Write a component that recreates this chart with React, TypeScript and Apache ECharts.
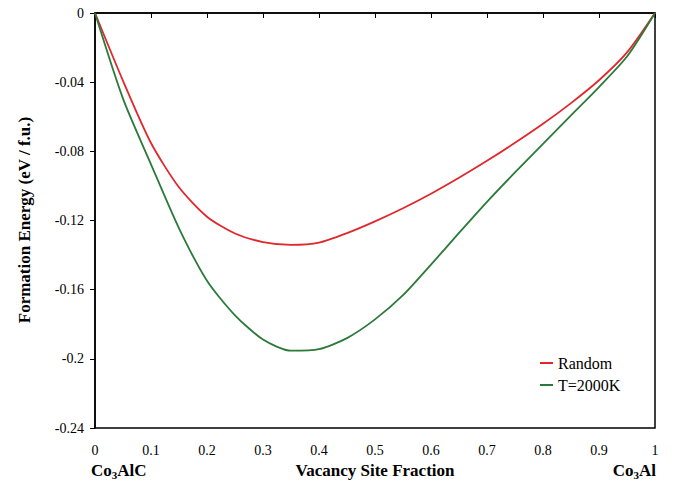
import React, { useEffect, useRef } from "react";
import * as echarts from "echarts";

const fractions = [0, 0.05, 0.1, 0.15, 0.2, 0.25, 0.3, 0.35, 0.4, 0.45, 0.5, 0.55, 0.6, 0.65, 0.7, 0.75, 0.8, 0.85, 0.9, 0.95, 1];
const randomE = [0, -0.0392, -0.0752, -0.1008, -0.1178, -0.1275, -0.1325, -0.1341, -0.1328, -0.1273, -0.1205, -0.1129, -0.1045, -0.0953, -0.0855, -0.0751, -0.0641, -0.0521, -0.0389, -0.0228, 0];
const t2000E = [0, -0.0495, -0.0875, -0.1245, -0.1548, -0.1748, -0.1888, -0.1953, -0.1944, -0.188, -0.1772, -0.1632, -0.1455, -0.1272, -0.1092, -0.0922, -0.0757, -0.0592, -0.0428, -0.0252, 0];
const seriesNames = ["Random", "T=2000K"];
const yTitle = "Formation Energy (eV / f.u.)";
const xTitle = "Vacancy Site Fraction";

const FONT = "Liberation Serif";
const BOLD17 = `bold 17px "${FONT}"`;

export default function App() {
  const ref = useRef<HTMLDivElement>(null);
  useEffect(() => {
    if (!ref.current) return;
    const chart = echarts.init(ref.current, null, { renderer: "svg" });
    const toPairs = (ys: number[]) => fractions.map((x, i) => [x, ys[i]]);
    chart.setOption({
      animation: false,
      grid: { left: 95, top: 13, right: 20, bottom: 59, show: true, borderColor: "#000", borderWidth: 1.5 },
      xAxis: {
        type: "value",
        min: 0,
        max: 1,
        interval: 0.1,
        axisLine: { lineStyle: { color: "#000", width: 1.5 } },
        axisTick: { length: 5, lineStyle: { color: "#000" } },
        splitLine: { show: false },
        axisLabel: {
          margin: 15,
          color: "#000",
          fontFamily: FONT,
          fontSize: 14,
          formatter: (v: number) => String(+v.toFixed(2)),
        },
      },
      yAxis: {
        type: "value",
        min: -0.24,
        max: 0,
        interval: 0.04,
        axisLine: { lineStyle: { color: "#000", width: 1.5 } },
        axisTick: { length: 5, lineStyle: { color: "#000" } },
        splitLine: { show: false },
        axisLabel: {
          margin: 11,
          color: "#000",
          fontFamily: FONT,
          fontSize: 14,
          formatter: (v: number) => String(+v.toFixed(2)),
        },
      },
      legend: {
        orient: "vertical",
        left: 535,
        top: 350,
        icon: "rect",
        itemWidth: 13,
        itemHeight: 2,
        itemGap: 6,
        textStyle: { fontFamily: FONT, fontSize: 16, color: "#000" },
        data: seriesNames,
      },
      series: [
        {
          name: seriesNames[0],
          type: "line",
          data: toPairs(randomE),
          smooth: 0.25,
          symbol: "none",
          lineStyle: { color: "#e0282c", width: 1.8 },
          itemStyle: { color: "#e0282c" },
        },
        {
          name: seriesNames[1],
          type: "line",
          data: toPairs(t2000E),
          smooth: 0.25,
          symbol: "none",
          lineStyle: { color: "#2b7a3a", width: 1.8 },
          itemStyle: { color: "#2b7a3a" },
        },
      ],
      graphic: [
        {
          type: "text",
          x: 24,
          y: 220,
          rotation: Math.PI / 2,
          style: { text: yTitle, font: BOLD17, fill: "#000", align: "center", verticalAlign: "middle" },
        },
        {
          type: "text",
          x: 375,
          y: 470,
          style: { text: xTitle, font: BOLD17, fill: "#000", align: "center", verticalAlign: "middle" },
        },
        {
          type: "text",
          x: 91,
          y: 470,
          style: {
            text: "{a|Co}{s|3}{a|AlC}",
            align: "left",
            verticalAlign: "middle",
            rich: {
              a: { fontFamily: FONT, fontWeight: "bold", fontSize: 17, color: "#000" },
              s: { fontFamily: FONT, fontWeight: "bold", fontSize: 11, color: "#000", padding: [10, 0, 0, 0] },
            },
          },
        },
        {
          type: "text",
          x: 656,
          y: 470,
          style: {
            text: "{a|Co}{s|3}{a|Al}",
            align: "right",
            verticalAlign: "middle",
            rich: {
              a: { fontFamily: FONT, fontWeight: "bold", fontSize: 17, color: "#000" },
              s: { fontFamily: FONT, fontWeight: "bold", fontSize: 11, color: "#000", padding: [10, 0, 0, 0] },
            },
          },
        },
      ],
    });
    return () => chart.dispose();
  }, []);
  return (
    <div style={{ fontFamily: FONT }}>
      <div
        aria-hidden="true"
        style={{ position: "fixed", left: 0, top: 0, zIndex: 0, color: "#fff", fontFamily: FONT, fontSize: 14 }}
      >
        <span>0</span>
        <b>0</b>
      </div>
      <div
        ref={ref}
        style={{ position: "fixed", left: 0, top: 0, width: 675, height: 487, zIndex: 1, background: "#fff" }}
      />
    </div>
  );
}
